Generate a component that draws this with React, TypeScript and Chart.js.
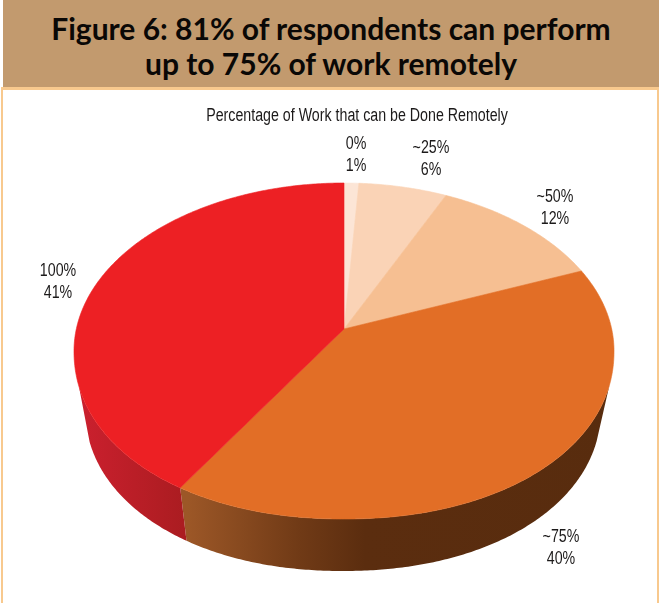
import React, { useEffect, useRef } from "react";
import { Chart, ArcElement, DoughnutController, registerables } from "chart.js";

Chart.register(...registerables);

// Survey results: share of respondents by how much of their work can be remote
const categories = ["0%", "~25%", "~50%", "~75%", "100%"];
const shares = [1, 6, 12, 40, 41];
const shareLabels = ["1%", "6%", "12%", "40%", "41%"];
const sliceColors = ["#fce5d6", "#fad3b6", "#f6bf92", "#e26e26", "#ed2024"];

const heading = ["Figure 6: 81% of respondents can perform", "up to 75% of work remotely"];
const subtitle = "Percentage of Work that can be Done Remotely";

// Perspective of the disc: vertical squash, rim centre below the apex, foreshortening
const SQUASH = 168 / 270;
const RIM_DROP = 21;
const BETA = -0.131;
// The near half of the rim is slightly fuller than a plain ellipse
const NEAR_EXPONENT = 2.1;

// Lower edge of the disc's side wall, relative to the apex and radius
const BASE_RX = 258 / 270;
const BASE_RY = 163 / 270;
const BASE_DROP = 78;
const BASE_SHIFT = -1;
const WALL_START = 0.2;

const LABEL_FONT = '18px "Liberation Sans", sans-serif';
const LABEL_CONDENSE = 0.79;
const labelAnchors = [
  { x: 356, y: 144 },
  { x: 431, y: 148 },
  { x: 555, y: 197 },
  { x: 561, y: 537 },
  { x: 58, y: 271 },
];
const LINE_GAP = 22;

// Maps an angle on the flat disc to a point on the unit rim, seen in perspective
function rimUnit(angle: number) {
  const px = Math.cos(angle);
  const py = Math.sin(angle);
  const d = 1 + BETA * py;
  const nx = (px * Math.sqrt(1 - BETA * BETA)) / d;
  const ny = (py + BETA) / d;
  if (ny <= 0) return { nx, ny };
  const s = Math.pow(Math.pow(Math.abs(nx), NEAR_EXPONENT) + Math.pow(ny, NEAR_EXPONENT), -1 / NEAR_EXPONENT);
  return { nx: nx * s, ny: ny * s };
}

function samples(start: number, end: number) {
  const steps = Math.max(2, Math.ceil((end - start) / 0.01));
  const out: number[] = [];
  for (let i = 0; i <= steps; i++) out.push(start + ((end - start) * i) / steps);
  return out;
}

class TiltedArc extends ArcElement {
  static id = "tiltedArc";
  static defaults = ArcElement.defaults;

  draw(ctx: CanvasRenderingContext2D) {
    const self = this as any;
    const { x, y, outerRadius: r, startAngle, endAngle, options } = self;
    const ry = r * SQUASH;
    const cy = y + RIM_DROP;
    ctx.save();
    ctx.beginPath();
    ctx.moveTo(x, cy + BETA * ry);
    for (const a of samples(startAngle, endAngle)) {
      const { nx, ny } = rimUnit(a);
      ctx.lineTo(x + nx * r, cy + ny * ry);
    }
    ctx.closePath();
    ctx.fillStyle = options.backgroundColor;
    ctx.strokeStyle = options.backgroundColor;
    ctx.lineWidth = 0.6;
    ctx.lineJoin = "round";
    ctx.fill();
    ctx.stroke();
    ctx.restore();
  }
}

class TiltedPie extends DoughnutController {
  static id = "tiltedPie";
  static defaults = { ...DoughnutController.defaults, dataElementType: "tiltedArc" };
  static overrides = DoughnutController.overrides;
}

Chart.register(TiltedArc, TiltedPie);

// Side wall below the rim, shaded left to right
const wallPlugin = {
  id: "discWall",
  beforeDatasetsDraw(chart: any) {
    const { ctx } = chart;
    const arcs = chart.getDatasetMeta(0).data;
    const shade: Record<number, [number, string][]> = {
      3: [
        [188, "#9c5727"],
        [300, "#703a16"],
        [365, "#5b2d0f"],
        [620, "#582c0e"],
      ],
      4: [
        [80, "#cb202e"],
        [190, "#a91c20"],
      ],
    };
    arcs.forEach((arc: any, index: number) => {
      const { x, y, outerRadius: r, startAngle, endAngle } = arc;
      const pts = samples(startAngle, endAngle)
        .map(rimUnit)
        .filter((p) => p.ny >= WALL_START);
      if (pts.length < 2 || !shade[index]) return;
      const ry = r * SQUASH;
      const rimY = y + RIM_DROP;
      const baseY = y + BASE_DROP;
      const x0 = shade[index][0][0];
      const x1 = shade[index][shade[index].length - 1][0];
      const grad = ctx.createLinearGradient(x0, 0, x1, 0);
      shade[index].forEach(([px, c]) => grad.addColorStop((px - x0) / (x1 - x0), c));
      ctx.save();
      ctx.beginPath();
      pts.forEach((p, i) => {
        const px = x + p.nx * r;
        const py = rimY + p.ny * ry;
        if (i === 0) ctx.moveTo(px, py);
        else ctx.lineTo(px, py);
      });
      for (let i = pts.length - 1; i >= 0; i--) {
        ctx.lineTo(x + BASE_SHIFT + pts[i].nx * r * BASE_RX, baseY + pts[i].ny * r * BASE_RY);
      }
      ctx.closePath();
      ctx.fillStyle = grad;
      ctx.fill();
      ctx.restore();
    });
  },
};

// Condensed text, centred on the given point
function narrowText(ctx: CanvasRenderingContext2D, text: string, x: number, y: number) {
  ctx.save();
  ctx.translate(x, y);
  ctx.scale(LABEL_CONDENSE, 1);
  ctx.fillText(text, 0, 0);
  ctx.restore();
}

// Subtitle and the two-line category/share labels
const labelPlugin = {
  id: "sliceLabels",
  afterDraw(chart: any) {
    const { ctx } = chart;
    ctx.save();
    ctx.font = LABEL_FONT;
    ctx.fillStyle = "#1c1a1a";
    ctx.textAlign = "center";
    ctx.textBaseline = "middle";
    narrowText(ctx, subtitle, 357, 116);
    categories.forEach((name, i) => {
      const { x, y } = labelAnchors[i];
      narrowText(ctx, name, x, y);
      narrowText(ctx, shareLabels[i], x, y + LINE_GAP);
    });
    ctx.restore();
  },
};

export default function App() {
  const canvasRef = useRef<HTMLCanvasElement | null>(null);

  useEffect(() => {
    const chart = new Chart(canvasRef.current as HTMLCanvasElement, {
      type: "tiltedPie" as any,
      data: {
        labels: categories,
        datasets: [
          {
            data: shares,
            backgroundColor: sliceColors,
            borderWidth: 0,
            hoverOffset: 0,
          },
        ],
      },
      options: {
        animation: false,
        responsive: false,
        events: [],
        cutout: 0,
        layout: { padding: { left: 74, right: 45, top: 60, bottom: 3 } },
        plugins: { legend: { display: false }, tooltip: { enabled: false }, title: { display: false } },
      } as any,
      plugins: [wallPlugin, labelPlugin],
    });
    return () => chart.destroy();
  }, []);

  return (
    <div style={{ position: "absolute", left: 0, top: 0, width: 659, height: 603, overflow: "hidden", background: "#fff" }}>
      <canvas ref={canvasRef} width={659} height={603} style={{ position: "absolute", left: 0, top: 0 }} />
      <div
        style={{
          position: "absolute",
          left: 3,
          top: 0,
          width: 656,
          height: 87,
          background: "#c29a6e",
          color: "#0a0806",
          fontFamily: '"Lato", "Open Sans", sans-serif',
          fontWeight: 700,
          fontSize: 30,
          lineHeight: "35px",
          textAlign: "center",
          paddingTop: 11,
          paddingRight: 0,
          boxSizing: "border-box",
        }}
      >
        {heading.map((line) => (
          <div key={line}>{line}</div>
        ))}
      </div>
      <div
        style={{
          position: "absolute",
          left: 1,
          top: 87,
          width: 658,
          height: 516,
          boxSizing: "border-box",
          borderTop: "3px solid #f8c98e",
          borderLeft: "2px solid #f8c98e",
          borderRight: "2px solid #f8c98e",
        }}
      />
    </div>
  );
}
